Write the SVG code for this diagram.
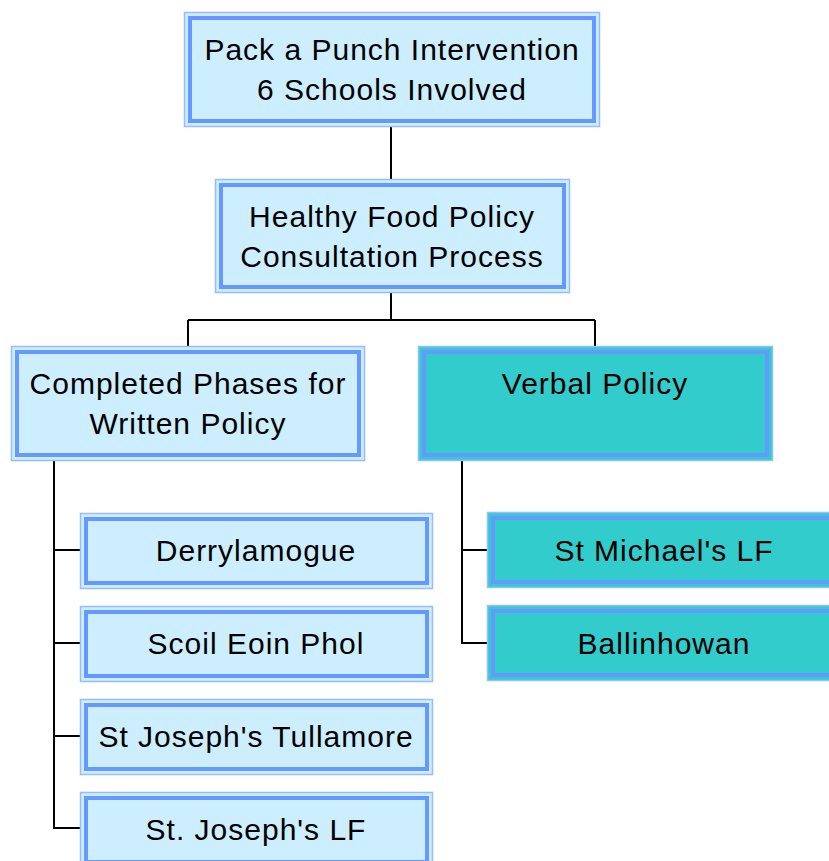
<svg xmlns="http://www.w3.org/2000/svg" width="829" height="861" viewBox="0 0 829 861">
<style>
.o{stroke:#99bbff;stroke-width:1.5}
.i{fill:none;stroke:#6699ff;stroke-width:4}
.lb{fill:#cceeff}
.tl{fill:#33cccc}
.t{font-family:"Liberation Sans",Arial,sans-serif;font-size:30px;letter-spacing:1px;fill:#000;text-anchor:middle}
.c{fill:none;stroke:#000;stroke-width:2}
</style>
<rect width="829" height="861" fill="#fff"/>
<g id="connectors">
<path class="c" d="M391,127V179"/>
<path class="c" d="M391,293V320M188,320H595M188,320V346M595,320V346"/>
<path class="c" d="M54,461V828H80M54,550H80M54,643H80M54,736H80"/>
<path class="c" d="M462,461V643H487M462,550H487"/>
</g>
<g id="n1"><rect class="o lb" x="184.5" y="12.5" width="415" height="114"/><rect class="i" x="190" y="18" width="404" height="103"/>
<text class="t" x="392" y="60">Pack a Punch Intervention</text><text class="t" x="392" y="100">6 Schools Involved</text></g>
<g id="n2"><rect class="o lb" x="215.5" y="179.5" width="354" height="113"/><rect class="i" x="221" y="185" width="343" height="102"/>
<text class="t" x="392" y="227">Healthy Food Policy</text><text class="t" x="392" y="267">Consultation Process</text></g>
<g id="n3"><rect class="o lb" x="11.5" y="346.5" width="353" height="114"/><rect class="i" x="17" y="352" width="342" height="103"/>
<text class="t" x="188" y="394">Completed Phases for</text><text class="t" x="188" y="434">Written Policy</text></g>
<g id="n4"><rect class="o tl" x="418.5" y="346.5" width="354" height="114"/><rect class="i" x="424" y="352" width="343" height="103"/>
<text class="t" x="595" y="394">Verbal Policy</text></g>
<g id="n5"><rect class="o lb" x="80.5" y="513.5" width="352" height="75"/><rect class="i" x="86" y="519" width="341" height="64"/>
<text class="t" x="256" y="561">Derrylamogue</text></g>
<g id="n6"><rect class="o lb" x="80.5" y="606.5" width="352" height="75"/><rect class="i" x="86" y="612" width="341" height="64"/>
<text class="t" x="256" y="654">Scoil Eoin Phol</text></g>
<g id="n7"><rect class="o lb" x="80.5" y="699.5" width="352" height="75"/><rect class="i" x="86" y="705" width="341" height="64"/>
<text class="t" x="256" y="747">St Joseph's Tullamore</text></g>
<g id="n8"><rect class="o lb" x="80.5" y="792.5" width="352" height="75"/><rect class="i" x="86" y="798" width="341" height="64"/>
<text class="t" x="256" y="840">St. Joseph's LF</text></g>
<g id="n9"><rect class="o tl" x="487.5" y="512.5" width="354" height="75"/><rect class="i" x="493" y="518" width="343" height="64"/>
<text class="t" x="664" y="561">St Michael's LF</text></g>
<g id="n10"><rect class="o tl" x="487.5" y="605.5" width="354" height="75"/><rect class="i" x="493" y="611" width="343" height="64"/>
<text class="t" x="664" y="654">Ballinhowan</text></g>
</svg>
